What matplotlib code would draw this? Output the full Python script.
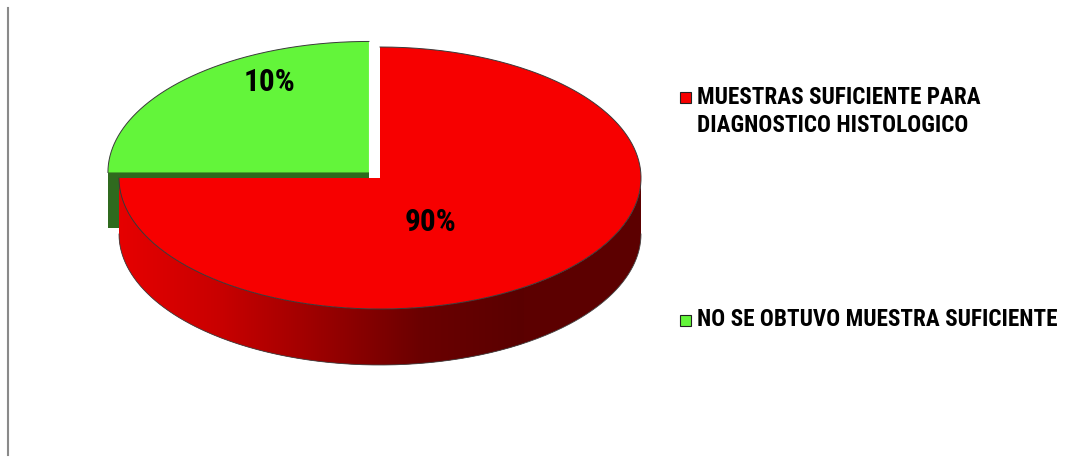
import numpy as np
import matplotlib
matplotlib.use('Agg')
import matplotlib.pyplot as plt
from matplotlib.patches import Polygon, Rectangle
from matplotlib.colors import LinearSegmentedColormap
from matplotlib import font_manager

# Datos del grafico
categorias = ['MUESTRAS SUFICIENTE PARA\nDIAGNOSTICO HISTOLOGICO',
              'NO SE OBTUVO MUESTRA SUFICIENTE']
tamanos = [75, 25]          # tamano de cada porcion tal como se dibuja
etiquetas = ['90%', '10%']  # texto que muestra el grafico
colores = ['#f70000', '#63f53a']
colores_lado = ['#5c0000', '#2f6a1e']
separacion = [0.0, 0.06]

# buscar una fuente estrecha instalada
nombres = {f.name for f in font_manager.fontManager.ttflist}
fuente = [n for n in ['Liberation Sans Narrow', 'Roboto Condensed', 'Open Sans Condensed',
                      'DejaVu Sans Condensed', 'Liberation Sans'] if n in nombres] + ['DejaVu Sans']

fig = plt.figure(figsize=(10.74, 4.58), dpi=100)
ax = fig.add_axes([0, 0, 1, 1])
ax.set_xlim(0, 1074)
ax.set_ylim(458, 0)
ax.axis('off')

# linea vertical gris a la izquierda
ax.plot([7.5, 7.5], [8, 455], color='#8a8a8a', lw=1.5)

cx, cy, rx, ry, prof = 380, 178, 261, 131, 56
degradado = LinearSegmentedColormap.from_list('lado', ['#e60000', '#c80000', '#9a0000', '#6a0000', '#5a0000'])

total = sum(tamanos)
angulos = []
ini = 90.0
for s in tamanos:
    fin = ini - 360.0 * s / total
    angulos.append((ini, fin))
    ini = fin

def punto(t, dx, dy, h=0.0):
    r = np.radians(t)
    return cx + dx + rx * np.cos(r), cy + dy - ry * np.sin(r) + h

z = 1
# dibujar primero las porciones de atras (la verde), luego la roja
for i in reversed(range(len(tamanos))):
    t1, t2 = angulos[i]
    med = np.radians((t1 + t2) / 2)
    dx = separacion[i] * rx * np.cos(med)
    dy = -separacion[i] * ry * np.sin(med)

    # caras radiales
    for t in (t1, t2):
        px, py = punto(t, dx, dy)
        cara = [(cx + dx, cy + dy), (px, py), (px, py + prof), (cx + dx, cy + dy + prof)]
        ax.add_patch(Polygon(cara, closed=True, fc=colores_lado[i], ec='none', zorder=z))
        z += 1

    # pared exterior visible (mitad delantera)
    a = max(min(t1, t2), -180.0)
    b = min(max(t1, t2), 0.0)
    if b > a:
        ts = np.linspace(a, b, 300)
        xs, ys = punto(ts, dx, dy)
        pared = np.vstack([np.column_stack([xs, ys]), np.column_stack([xs[::-1], ys[::-1] + prof])])
        poly = Polygon(pared, closed=True, fc=colores_lado[i], ec='none', zorder=z)
        ax.add_patch(poly)
        z += 1
        if i == 0:
            grad = np.linspace(0, 1, 256).reshape(1, -1)
            x0, x1 = cx + dx - rx, cx + dx + rx * 0.55
            im = ax.imshow(grad, cmap=degradado, aspect='auto', interpolation='bilinear',
                           extent=(x0, x1, cy + dy + ry + prof + 2, cy + dy - 2), zorder=z)
            im.set_clip_path(poly)
            z += 1
        ax.plot(xs, ys + prof, color='#444444', lw=0.6, zorder=z)
        z += 1

    # cara superior
    ts = np.linspace(t1, t2, 300)
    xs, ys = punto(ts, dx, dy)
    sup = np.vstack([[cx + dx, cy + dy], np.column_stack([xs, ys])])
    ax.add_patch(Polygon(sup, closed=True, fc=colores[i], ec='none', zorder=z))
    ax.plot(xs, ys, color='#3a3a3a', lw=0.7, zorder=z + 1)
    z += 2

ax.set_xlim(0, 1074)
ax.set_ylim(458, 0)

# ajustar el tamano de letra para que la leyenda quepa como en la referencia
r = fig.canvas.get_renderer()
prueba = ax.text(0, 0, categorias[1], fontsize=15.5, fontweight='bold', family=fuente)
ancho = prueba.get_window_extent(r).width
prueba.remove()
tam_ley = min(17.5, 15.5 * 360 / ancho)
tam_etq = tam_ley * 1.35

# etiquetas de porcentaje
pos_etq = [(430, 222), (270, 82)]
for i, e in enumerate(etiquetas):
    ax.text(pos_etq[i][0], pos_etq[i][1], e, ha='center', va='center',
            fontsize=tam_etq, fontweight='bold', family=fuente, color='black', zorder=z)

# leyenda
pos_ley = [97, 320]
for i, c in enumerate(categorias):
    ax.add_patch(Rectangle((680, pos_ley[i] - 5.5), 11, 11, fc=colores[i], ec='#222222', lw=0.8))
    if '\n' in c:
        ax.text(697, pos_ley[i] - 11, c, ha='left', va='top', fontsize=tam_ley,
                fontweight='bold', family=fuente, color='black', linespacing=1.25)
    else:
        ax.text(697, pos_ley[i], c, ha='left', va='center', fontsize=tam_ley,
                fontweight='bold', family=fuente, color='black')

fig.savefig('out.png', dpi=100)
